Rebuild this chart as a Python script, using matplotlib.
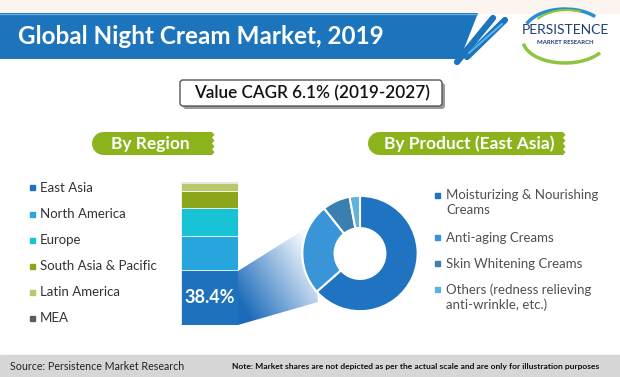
import numpy as np
import matplotlib
matplotlib.use("Agg")
import matplotlib.pyplot as plt
from matplotlib.patches import Polygon, FancyBboxPatch, Rectangle, Arc

plt.rcParams["font.family"] = ["Lato", "DejaVu Sans"]

# data
regions = ["East Asia", "North America", "Europe", "South Asia & Pacific", "Latin America", "MEA"]
region_share = [38.4, 23.7, 19.6, 12.0, 5.3, 1.0]
region_colors = ["#1d71bd", "#27a6de", "#19c3d6", "#8ba61b", "#b9c76b", "#5a5d63"]

products = ["Moisturizing & Nourishing\nCreams", "Anti-aging Creams", "Skin Whitening Creams",
            "Others (redness relieving\nanti-wrinkle, etc.)"]
product_share = [63.5, 25.8, 7.8, 2.9]
product_colors = ["#1f73c0", "#3a95d8", "#3b7fb0", "#5fb2dc"]

title = "Global Night Cream Market, 2019"
cagr = "Value CAGR 6.1% (2019-2027)"

W, H = 620, 377
fig = plt.figure(figsize=(W / 100, H / 100), dpi=100)
fig.patch.set_facecolor("white")

ax = fig.add_axes([0, 0, 1, 1])
ax.set_xlim(0, W)
ax.set_ylim(H, 0)
ax.axis("off")

# top strip + header banner
ax.add_patch(Rectangle((0, 0), W, 13, color="#fcf5ef", zorder=0))
ax.add_patch(Polygon([(0, 13), (478, 13), (460, 59), (0, 59)], closed=True,
                     facecolor="#1c74bd", edgecolor="none", zorder=1))
ax.plot([0, 477], [14, 14], color="#5fb0e6", lw=1, zorder=2)
ax.text(18, 37, title, color="white", fontsize=17.5, fontweight="bold", va="center", ha="left", zorder=3)
ax.plot([457, 493], [62, 18], color="#1c74bd", lw=4.5, solid_capstyle="round", zorder=2)
ax.plot([467, 505], [57, 20], color="#1c74bd", lw=4.5, solid_capstyle="round", zorder=2)
ax.plot([469, 502], [53, 24], color="#59b3e8", lw=1.5, solid_capstyle="round", zorder=3)

# logo
ax.add_patch(Arc((565, 40), 84, 46, theta1=20, theta2=175, color="#8fc43e", lw=2.5, zorder=2))
ax.add_patch(Arc((565, 34), 84, 50, theta1=195, theta2=330, color="#2a8fd0", lw=2.5, zorder=2))
ax.add_patch(Arc((567, 36), 78, 52, theta1=210, theta2=300, color="#8fc43e", lw=1.5, zorder=2))
ax.text(565, 30, "PERSISTENCE", color="#1d3f73", fontsize=10, ha="center", va="center",
        zorder=3, bbox=dict(facecolor="white", edgecolor="none", pad=0.3))
ax.text(565, 42, "MARKET RESEARCH", color="#1d3f73", fontsize=4.3, ha="center", va="center",
        fontweight="bold", zorder=3)

# CAGR box
ax.add_patch(FancyBboxPatch((183, 83), 262, 26, boxstyle="round,pad=0,rounding_size=3",
                            facecolor="#9a9a9a", edgecolor="none", zorder=1))
ax.add_patch(FancyBboxPatch((180, 80), 262, 26, boxstyle="round,pad=0,rounding_size=3",
                            facecolor="white", edgecolor="#555555", lw=1, zorder=2))
ax.text(312, 93.5, cagr, fontsize=12.3, fontweight="semibold", color="#111111",
        ha="center", va="center", zorder=3)


def pill(x0, x1, y0, y1, label, tx):
    r = (y1 - y0) / 2
    t = np.linspace(np.pi / 2, 3 * np.pi / 2, 20)
    left = [(x0 + r + r * np.cos(a), y0 + r - r * np.sin(a)) for a in t]
    # zigzag right edge
    ys = np.linspace(y1, y0, 9)
    right = [(x1 + (2.5 if i % 2 else 0), yy) for i, yy in enumerate(ys)]
    pts = [(x0 + r, y0)] + left[1:] + [(x0 + r, y1)] + right
    ax.add_patch(Polygon(pts, closed=True, facecolor="#8cb31c", edgecolor="none", zorder=2))
    ax.text(tx, (y0 + y1) / 2, label, color="white", fontsize=12.5,
            fontweight="bold", ha="center", va="center", zorder=3)


pill(92, 212, 132, 155, "By Region", 150)
pill(368, 563, 132, 155, "By Product (East Asia)", 469)

# left legend
leg_y = [187.5, 214, 240, 266, 292, 318.5]
for name, col, yy in zip(regions, region_colors, leg_y):
    ax.add_patch(Rectangle((30, yy - 2.5), 5, 5, color=col, zorder=3))
    ax.text(40, yy, name, fontsize=9.5, color="#333333", va="center", ha="left", zorder=3)

# right legend
prod_y = [202.5, 237.5, 263.5, 297]
for name, col, yy in zip(products, product_colors, prod_y):
    n = name.count("\n")
    ax.add_patch(Rectangle((435, yy - 7.5 * n - 2.5), 5, 5, color=col, zorder=3))
    ax.text(446, yy, name, fontsize=9.5, color="#505050", va="center", ha="left",
            linespacing=1.25, zorder=3)

# funnel gradient between bar and donut
funnel = [(238, 271), (313, 224), (318, 302), (238, 325)]
gx, gy = np.meshgrid(np.linspace(0, 1, 120), np.linspace(0, 1, 120))
val = np.clip(0.75 * (1 - gx) + 0.6 * gy - 0.2, 0, 1) ** 1.0
dark = np.array([0.11, 0.42, 0.73])
light = np.array([0.97, 0.98, 1.0])
img = light[None, None, :] * (1 - val[..., None]) + dark[None, None, :] * val[..., None]
im = ax.imshow(img, extent=(238, 318, 325, 224), zorder=1, interpolation="bilinear", aspect="auto")
fp = Polygon(funnel, closed=True, transform=ax.transData, facecolor="none", edgecolor="none")
ax.add_patch(fp)
im.set_clip_path(fp)
ax.set_xlim(0, W)
ax.set_ylim(H, 0)

# footer
ax.add_patch(Rectangle((0, 355), W, 22, color="#d6d6d6", zorder=1))
ax.text(10, 366, "Source: Persistence Market Research", fontsize=7.7, color="#222222",
        va="center", ha="left", zorder=3)
ax.text(232, 366, "Note: Market shares are not depicted as per the actual scale and are only for illustration purposes",
        fontsize=6.1, color="#111111", va="center", ha="left", fontweight="bold", zorder=3)

# stacked bar
bax = fig.add_axes([181 / W, (H - 325) / H, 57 / W, 143.5 / H])
bottom = 0
for v, c in zip(region_share, region_colors):
    bax.bar(0, v, bottom=bottom, width=1, color=c, edgecolor="white", linewidth=0.5)
    bottom += v
bax.set_xlim(-0.5, 0.5)
bax.set_ylim(0, sum(region_share))
bax.axis("off")
bax.text(0, region_share[0] / 2, f"{region_share[0]}%", color="white", fontsize=13,
         fontweight="bold", ha="center", va="center")

# donut
size = 124
dax = fig.add_axes([(360 - size / 2) / W, (H - 253.5 - size / 2) / H, size / W, size / H])
dax.pie(product_share, colors=product_colors, startangle=90, counterclock=False, radius=0.93,
        wedgeprops=dict(width=0.52, edgecolor="white", linewidth=1.5))
dax.set_xlim(-1, 1)
dax.set_ylim(-1, 1)
dax.patch.set_alpha(0)

fig.savefig("out.png", dpi=100)
